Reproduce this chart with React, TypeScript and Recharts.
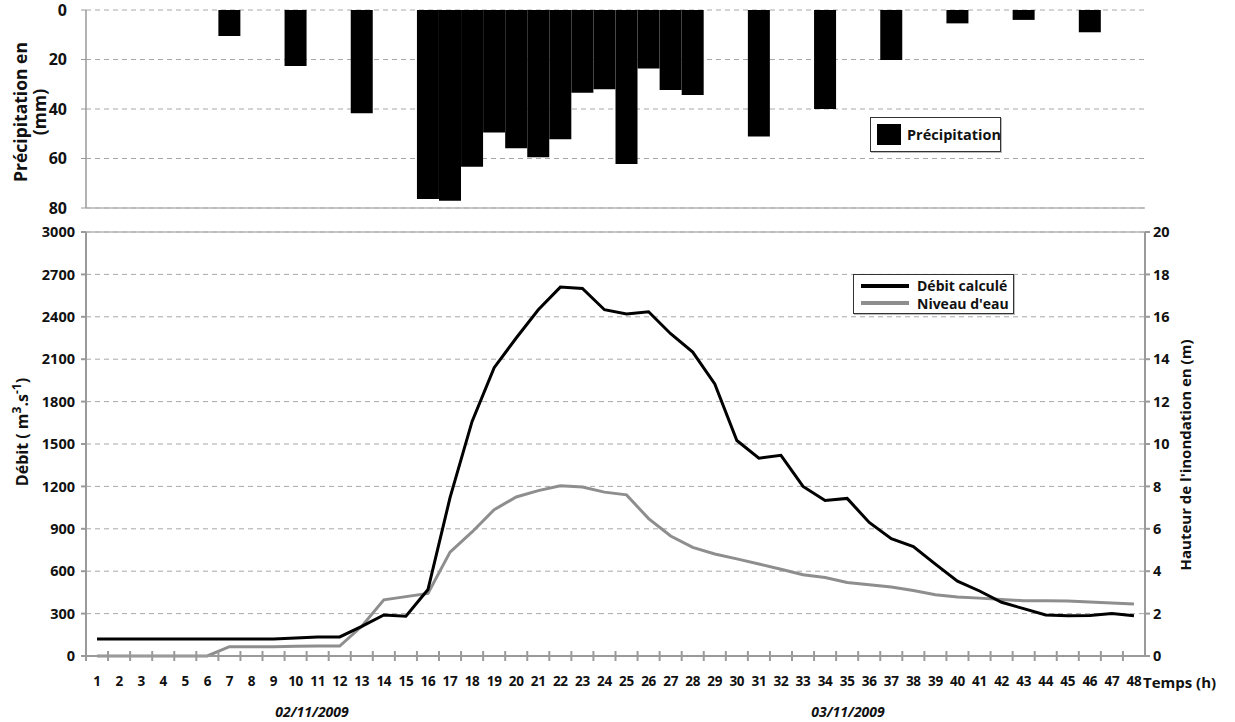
import {
  BarChart,
  Bar,
  ComposedChart,
  Line,
  XAxis,
  YAxis,
  CartesianGrid,
  ReferenceLine,
} from "recharts";

const HOURS = [
  1, 2, 3, 4, 5, 6, 7, 8, 9, 10, 11, 12, 13, 14, 15, 16, 17, 18, 19, 20, 21, 22, 23, 24,
  25, 26, 27, 28, 29, 30, 31, 32, 33, 34, 35, 36, 37, 38, 39, 40, 41, 42, 43, 44, 45, 46, 47, 48,
];

// precipitation per hour (mm)
const PRECIP = [
  0, 0, 0, 0, 0, 0, 10.5, 0, 0, 22.6, 0, 0, 41.7, 0, 0, 76.4, 77.1, 63.3, 49.5, 55.9, 59.5, 52.2, 33.4, 32,
  62.2, 23.6, 32.3, 34.3, 0, 0, 51.1, 0, 0, 40, 0, 0, 20.2, 0, 0, 5.4, 0, 0, 4, 0, 0, 9, 0, 0,
];

// computed discharge (m3/s)
const DEBIT = [
  120, 120, 120, 120, 120, 120, 120, 120, 120, 128, 135, 135, 210, 290, 282, 470, 1120, 1660, 2040, 2250, 2450, 2610, 2600, 2450,
  2420, 2436, 2280, 2150, 1925, 1525, 1400, 1420, 1200, 1100, 1115, 945, 830, 775, 650, 530, 460, 380, 335, 290, 285, 287, 300, 285,
];

// water level (m)
const NIVEAU = [
  0, 0, 0, 0, 0, 0, 0.44, 0.44, 0.44, 0.46, 0.47, 0.47, 1.4, 2.65, 2.8, 2.95, 4.9, 5.85, 6.9, 7.5, 7.8, 8.03, 7.97, 7.73,
  7.6, 6.48, 5.66, 5.12, 4.81, 4.58, 4.34, 4.09, 3.83, 3.7, 3.47, 3.36, 3.25, 3.09, 2.89, 2.78, 2.73, 2.66, 2.61, 2.61, 2.6, 2.55, 2.5, 2.45,
];

const PRECIP_TICKS = [0, 20, 40, 60, 80];
const DEBIT_TICKS = [0, 300, 600, 900, 1200, 1500, 1800, 2100, 2400, 2700, 3000];
const NIVEAU_TICKS = [0, 2, 4, 6, 8, 10, 12, 14, 16, 18, 20];

const FONT = "'Open Sans', sans-serif";
const AXIS_GREY = "#9a9a9a";
const GRID_GREY = "#a8a8a8";
const LEVEL_GREY = "#8e8e8e";

const PLOT_LEFT = 86;
const PLOT_RIGHT = 1145;
const BAND = (PLOT_RIGHT - PLOT_LEFT) / HOURS.length;

const precipData = HOURS.map((h, i) => ({ hour: h, precip: PRECIP[i] }));
const flowData = HOURS.map((h, i) => ({ hour: h, debit: DEBIT[i], niveau: NIVEAU[i] }));

const tickFont = { fontFamily: FONT, fontWeight: 700, fill: "#111" };

function HourTick({ x, y, payload }: any) {
  const axisY = y - 8;
  const left = x - BAND / 2;
  return (
    <g>
      <line x1={left} x2={left} y1={axisY - 5} y2={axisY + 5} stroke={AXIS_GREY} strokeWidth={2} />
      <text x={x} y={y} dy={22} textAnchor="middle" fontSize={13.5} letterSpacing={-0.3} {...tickFont}>
        {payload.value}
      </text>
    </g>
  );
}

function PrecipTitle({ viewBox }: any) {
  const cy = viewBox.y + viewBox.height / 2 + 3;
  return (
    <g fontFamily={FONT} fontWeight={700} fontSize={17.5} fill="#111">
      <text x={20} y={cy} textAnchor="middle" dominantBaseline="central" transform={`rotate(-90, 20, ${cy})`}>
        Précipitation en
      </text>
      <text x={39} y={cy} textAnchor="middle" dominantBaseline="central" transform={`rotate(-90, 39, ${cy})`}>
        (mm)
      </text>
    </g>
  );
}

function DebitTitle({ viewBox }: any) {
  const cx = viewBox.x - 14;
  const cy = viewBox.y + viewBox.height / 2 - 12;
  return (
    <text
      x={cx}
      y={cy}
      textAnchor="middle"
      dominantBaseline="central"
      transform={`rotate(-90, ${cx}, ${cy})`}
      fontFamily={FONT}
      fontWeight={700}
      fontSize={16}
      fill="#111"
    >
      Débit ( m
      <tspan dy={-6} fontSize={12}>3</tspan>
      <tspan dy={6}>.s</tspan>
      <tspan dy={-6} fontSize={12}>-1</tspan>
      <tspan dy={6}>)</tspan>
    </text>
  );
}

function NiveauTitle({ viewBox }: any) {
  const cx = viewBox.x + 40;
  const cy = viewBox.y + viewBox.height / 2 + 11;
  return (
    <text
      x={cx}
      y={cy}
      textAnchor="middle"
      dominantBaseline="central"
      transform={`rotate(-90, ${cx}, ${cy})`}
      fontFamily={FONT}
      fontWeight={700}
      fontSize={15}
      fill="#111"
    >
      Hauteur de l'inondation en (m)
    </text>
  );
}

const boxStyle = {
  position: "absolute" as const,
  background: "#fff",
  border: "1px solid #333",
  boxShadow: "1px 1px 0 #bbb",
  fontFamily: FONT,
  fontWeight: 700,
  fontSize: 15,
  color: "#111",
  boxSizing: "border-box" as const,
};

export default function App() {
  return (
    <div style={{ position: "absolute", left: 0, top: 0, width: 1235, height: 722, background: "#fff" }}>
      <div style={{ position: "absolute", left: 0, top: 0 }}>
        <BarChart
          width={1235}
          height={220}
          data={precipData}
          margin={{ top: 10, right: 90, bottom: 12, left: 36 }}
          barCategoryGap={0}
          barGap={0}
        >
          <CartesianGrid yAxisId="l" vertical={false} stroke={GRID_GREY} strokeDasharray="5 4" />
          <ReferenceLine yAxisId="l" y={80} stroke="#b5b5b5" strokeWidth={1.5} />
          <XAxis
            dataKey="hour"
            orientation="top"
            height={0}
            tick={false}
            tickLine={false}
            axisLine={{ stroke: "#000", strokeWidth: 2.5 }}
          />
          <YAxis
            yAxisId="l"
            width={50}
            reversed
            domain={[0, 80]}
            ticks={PRECIP_TICKS}
            interval={0}
            axisLine={{ stroke: "#999", strokeWidth: 1.5 }}
            tickLine={{ stroke: "#999" }}
            tickSize={5}
            tickMargin={14}
            tick={{ ...tickFont, fontSize: 16 }}
            label={PrecipTitle}
          />
          <YAxis
            yAxisId="r"
            orientation="right"
            width={0}
            domain={[0, 80]}
            tick={false}
            tickLine={false}
            axisLine={{ stroke: "#b5b5b5", strokeWidth: 1.5 }}
          />
          <Bar yAxisId="l" dataKey="precip" fill="#000" isAnimationActive={false} />
        </BarChart>
      </div>

      <div style={{ ...boxStyle, left: 870, top: 117, width: 131, height: 35 }}>
        <div style={{ position: "absolute", left: 6, top: 6, width: 24, height: 21, background: "#000" }} />
        <div style={{ position: "absolute", left: 36, top: 0, lineHeight: "33px", fontSize: 14.5 }}>Précipitation</div>
      </div>

      <div style={{ position: "absolute", left: 0, top: 220 }}>
        <ComposedChart
          width={1235}
          height={502}
          data={flowData}
          margin={{ top: 12, right: 40, bottom: 26, left: 36 }}
        >
          <CartesianGrid yAxisId="left" vertical={false} stroke={GRID_GREY} strokeDasharray="5 4" />
          <ReferenceLine yAxisId="left" y={3000} stroke="#b5b5b5" strokeWidth={1.5} />
          <XAxis
            dataKey="hour"
            scale="band"
            height={40}
            interval={0}
            axisLine={{ stroke: AXIS_GREY, strokeWidth: 2 }}
            tickLine={false}
            tickSize={6}
            tickMargin={2}
            tick={HourTick}
          />
          <YAxis
            yAxisId="left"
            width={50}
            domain={[0, 3000]}
            ticks={DEBIT_TICKS}
            interval={0}
            axisLine={{ stroke: AXIS_GREY, strokeWidth: 2 }}
            tickLine={{ stroke: AXIS_GREY, strokeWidth: 2 }}
            tickSize={5}
            tickMargin={6}
            tick={{ ...tickFont, fontSize: 14.5 }}
            label={DebitTitle}
          />
          <YAxis
            yAxisId="right"
            orientation="right"
            width={50}
            domain={[0, 20]}
            ticks={NIVEAU_TICKS}
            interval={0}
            axisLine={{ stroke: AXIS_GREY, strokeWidth: 2 }}
            tickLine={{ stroke: AXIS_GREY, strokeWidth: 2 }}
            tickSize={5}
            tickMargin={3}
            tick={{ ...tickFont, fontSize: 14.5 }}
            label={NiveauTitle}
          />
          <Line
            yAxisId="right"
            type="linear"
            dataKey="niveau"
            stroke={LEVEL_GREY}
            strokeWidth={3}
            dot={false}
            isAnimationActive={false}
          />
          <Line
            yAxisId="left"
            type="linear"
            dataKey="debit"
            stroke="#000"
            strokeWidth={3}
            dot={false}
            isAnimationActive={false}
          />
        </ComposedChart>
      </div>

      <div style={{ ...boxStyle, left: 853, top: 274, width: 161, height: 40 }}>
        <svg width={60} height={38} style={{ position: "absolute", left: 0, top: 0 }}>
          <line x1={7} x2={55} y1={11} y2={11} stroke="#000" strokeWidth={4} />
          <line x1={7} x2={55} y1={28} y2={28} stroke={LEVEL_GREY} strokeWidth={4} />
        </svg>
        <div style={{ position: "absolute", left: 63, top: 1, lineHeight: "19px", height: 19, fontSize: 14 }}>Débit calculé</div>
        <div style={{ position: "absolute", left: 63, top: 20, lineHeight: "17px", height: 17, fontSize: 14 }}>Niveau d'eau</div>
      </div>

      <svg width={1235} height={722} style={{ position: "absolute", left: 0, top: 0, pointerEvents: "none" }}>
        <text x={1143} y={688} fontFamily={FONT} fontWeight={700} fontSize={15} fill="#111">
          Temps (h)
        </text>
        <text x={312} y={717} textAnchor="middle" fontFamily={FONT} fontWeight={700} fontStyle="italic" fontSize={14} fill="#111">
          02/11/2009
        </text>
        <text x={848} y={717} textAnchor="middle" fontFamily={FONT} fontWeight={700} fontStyle="italic" fontSize={14} fill="#111">
          03/11/2009
        </text>
      </svg>
    </div>
  );
}
